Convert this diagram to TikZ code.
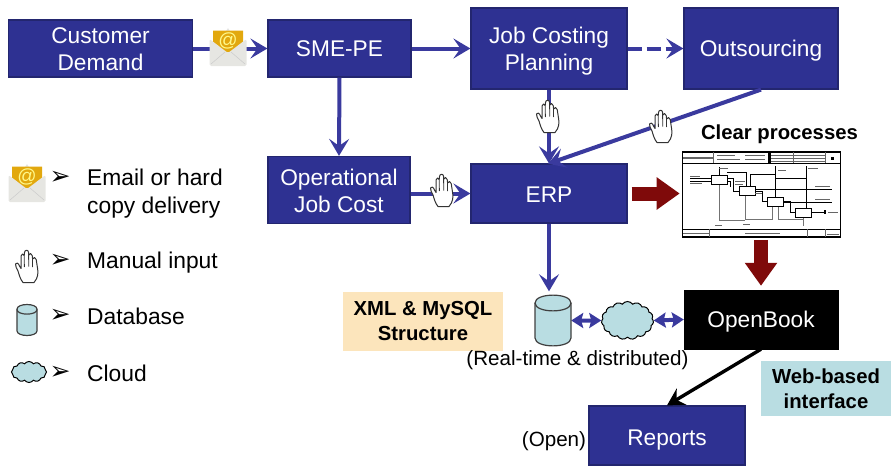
\documentclass[tikz,border=0pt]{standalone}
\usepackage{fontspec}
\setmainfont{Liberation Sans}
\newfontfamily\djfont{DejaVu Sans}
\usetikzlibrary{arrows.meta,shapes.geometric,shapes.symbols,calc}
\definecolor{boxblue}{HTML}{2E3192}
\definecolor{boxedge}{HTML}{23266F}
\definecolor{linkblue}{HTML}{3A3A9E}
\definecolor{darkred}{HTML}{7F0A0A}
\definecolor{dbfill}{HTML}{B9DDE2}
\definecolor{notefill}{HTML}{FCE5BC}
\definecolor{flap}{HTML}{E2A80E}
\definecolor{envbody}{HTML}{E6E6E2}
\tikzset{
  bluebox/.style={draw=boxedge,line width=1.2pt,fill=boxblue,inner sep=0pt},
  blackbox/.style={draw=black,fill=black,inner sep=0pt},
  boxtext/.style={text=white,align=center,inner sep=0pt,font=\fontsize{22.7}{27}\selectfont},
  link/.style={draw=linkblue,line width=4pt,-{Stealth[length=17pt,width=20pt,inset=7pt]}},
  linkboth/.style={draw=linkblue,line width=4pt,{Stealth[length=12pt,width=15pt,inset=2pt]}-{Stealth[length=12pt,width=15pt,inset=2pt]}},
  blackarrow/.style={draw=black,line width=3.4pt,-{Stealth[length=17pt,width=19pt,inset=6pt]}},
  redarrow/.style={draw=darkred,line width=14pt,-{Triangle[length=23pt,width=31pt]}},
  note/.style={inner sep=0pt,align=center,font=\bfseries\fontsize{20.3}{25}\selectfont},
  plain/.style={inner sep=0pt,align=center,font=\fontsize{20.6}{25}\selectfont},
  legendtext/.style={inner sep=0pt,align=left,anchor=west,font=\fontsize{22.8}{27.5}\selectfont},
  bullet/.style={inner sep=0pt,font=\djfont\fontsize{25}{28}\selectfont},
  dbanchor/.style={inner sep=0pt,minimum width=36pt,minimum height=52pt},
  cloudshape/.style={cloud,cloud puffs=15,cloud puff arc=110,draw=black,line width=1pt,fill=dbfill,inner sep=0pt},
  fline/.style={draw=black,line width=1pt},
  gline/.style={draw=black!55,line width=1pt},
  tline/.style={draw=black!60,line width=.5pt},
  fbox/.style={draw=black,line width=1pt,fill=white,inner sep=0pt,minimum width=16pt,minimum height=9pt},
  dbicon/.pic={
    \draw[black!75,fill=dbfill,line width=1.2pt]
      (-18,-17.5) -- (-18,17.5) .. controls (-18,28) and (18,28) .. (18,17.5) -- (18,-17.5)
      .. controls (18,-28) and (-18,-28) .. (-18,-17.5) -- cycle;
    \draw[black!75,line width=1.2pt]
      (-18,-17.5) .. controls (-18,-7) and (18,-7) .. (18,-17.5);
  },
  envelope/.pic={
    \fill[white!90!black] (-7,-8) -- (0,-19) -- (7,-8) -- cycle;
    \fill[flap] (-15,-16.5) -- (15,-16.5) -- (15,-5) -- (0,7) -- (-15,-5) -- cycle;
    \fill[envbody,rounded corners=1.5pt] (-18.5,-8) -- (0,6) -- (18.5,-8) -- (18.5,19) -- (-18.5,19) -- cycle;
    \draw[white!80!black,line width=.5pt] (-17,17) -- (-3,5) (17,17) -- (3,5);
    \node[inner sep=0pt,text=yellow!45!white,font=\fontsize{19}{20}\selectfont] (-at) at (0,-6) {@};
  },
  hand/.pic={
    \draw[black!80,fill=white,line width=1pt,line join=round]
      (-4,16.5) .. controls (-7,13) and (-8,8) .. (-9,5)
      .. controls (-10,3) and (-12,0) .. (-11.5,-2)
      .. controls (-11,-4) and (-8.5,-3) .. (-7.5,0)
      -- (-6,2.5) -- (-6,-10)
      .. controls (-6,-12.5) and (-3,-12.5) .. (-2.8,-10.5)
      -- (-2.5,-13.5) .. controls (-2.3,-16.5) and (1.5,-16.5) .. (1.6,-13.5)
      -- (1.8,-11) .. controls (2,-13) and (5,-13) .. (5.2,-10.5)
      -- (5.6,-7) .. controls (6,-9) and (9,-9) .. (9.2,-6.5)
      -- (10.5,2) .. controls (11.5,7) and (11,12) .. (7,16.5)
      -- cycle;
    \draw[black!80,line width=.8pt] (-2.8,-10) -- (-2.6,1) (1.6,-13) -- (1.7,0.5) (5.4,-9) -- (5.6,1);
  }
}
\begin{document}
\begin{tikzpicture}[x=1pt,y=-1pt]
\useasboundingbox (0,0) rectangle (892,466);

% boxes
\node[bluebox,minimum width=184pt,minimum height=57pt,label={[boxtext,yshift=-1pt]center:{Customer\\Demand}}] (cust) at (100.5,48.5) {};
\node[bluebox,minimum width=143pt,minimum height=57pt,label={[boxtext]center:{SME-PE}}] (sme) at (339.5,48.5) {};
\node[bluebox,minimum width=156pt,minimum height=81pt,label={[boxtext,yshift=-3pt]center:{Job Costing\\Planning}}] (job) at (549,48.5) {};
\node[bluebox,minimum width=154pt,minimum height=81pt,label={[boxtext,yshift=-2pt]center:{Outsourcing}}] (out) at (761,48.5) {};
\node[bluebox,minimum width=142pt,minimum height=67pt,label={[boxtext,yshift=-1pt]center:{Operational\\Job Cost}}] (op) at (339,190) {};
\node[bluebox,minimum width=156pt,minimum height=59pt,label={[boxtext,yshift=-1pt]center:{ERP}}] (erp) at (549,193.5) {};
\node[blackbox,minimum width=154pt,minimum height=59pt,label={[boxtext,yshift=-2.5pt]center:{OpenBook}}] (ob) at (761,319.5) {};
\node[bluebox,minimum width=156pt,minimum height=59pt,label={[boxtext,yshift=-4.5pt]center:{Reports}}] (rep) at (667,435.5) {};

% database and cloud
\node[dbanchor] (db) at (553,320.5) {};
\node[cloudshape,minimum width=52pt,minimum height=38pt] (cl) at (627.5,320.5) {};

% diagram thumbnail frame
\node[draw=black,line width=1.6pt,fill=white,inner sep=0pt,minimum width=158pt,minimum height=85pt] (thumb) at (761.5,194.5) {};

% connectors
\draw[link] (cust.east) -- (sme.west);
\draw[link] (sme.east) -- (job.west);
\draw[link,dashed,dash pattern=on 14pt off 5pt] (job.east) -- (out.west);
\draw[link] (sme.south) -- (op.north);
\draw[link] (op.east |- erp.west) -- (erp.west);
\draw[link] (job.south) -- (erp.north);
\draw[link,shorten >=-1pt] (out.south) -- (erp.north);
\draw[link,shorten >=3pt] (erp.south) -- (erp.south |- db.north);
\draw[linkboth] (db.east) -- (cl.west);
\draw[linkboth] (cl.east) -- (ob.west);
\draw[blackarrow] (ob.south) -- (rep.north);
\draw[redarrow,shorten <=4pt,shorten >=2pt] (erp.east) -- (thumb.west |- erp.east);
\draw[redarrow,shorten <=2pt,shorten >=4pt,xshift=-4pt] (thumb.south -| ob.north) -- (ob.north);

% icons on the connectors
\pic at (553,320.5) {dbicon};
\pic (mailA) at (228,47) {envelope};
\pic at (548,116) {hand};
\pic at (661,126) {hand};
\pic at (442,190) {hand};

% thumbnail content: title blocks
\draw[fline] (682,163.5) -- (841,163.5) (682,229) -- (841,229);
\draw[tline] (713,152) -- (713,163) (683,157.5) -- (713,157.5) (683,158.5) -- (713,158.5)
  (793,152) -- (793,163) (825,152) -- (825,163) (771,155) -- (825,155) (771,158) -- (825,158) (771,161) -- (825,161)
  (717,155) -- (735,155) (717,159) -- (740,159) (745,155) -- (765,155) (745,159) -- (765,159)
  (709,229) -- (709,237) (807,229) -- (807,237) (825,229) -- (825,237) (683,233) -- (709,233)
  (745,233) -- (780,233) (827,234) -- (839,234);
\fill[black] (768,152) rectangle (771,163);
\fill[black] (831,157) rectangle (834,160);
% thumbnail content: flow lines
\draw[fline] (690,178) -- (711,178) (690,181) -- (711,181);
\draw[gline] (719,184) -- (719,220) -- (745,220) (745,195) -- (745,220);
\draw[fline] (719,175) -- (719,167);
\draw[fline] (727,172) -- (746,172) -- (746,186);
\draw[fline] (727,178) -- (733,178) -- (733,191) -- (739,191);
\draw[fline] (727,181) -- (730,181) -- (730,187);
\draw[fline] (750,186) -- (750,174) -- (775,174) -- (775,197);
\draw[fline] (755,191) -- (762,191) -- (762,201) -- (767,201);
\draw[fline] (755,189) -- (832,189);
\draw[fline] (775,166) -- (775,174);
\draw[fline] (775,178) -- (806,178) -- (806,208);
\draw[fline] (806,166) -- (806,178);
\draw[fline] (783,201) -- (790,201) -- (790,212) -- (796,212);
\draw[fline] (783,202) -- (832,202);
\draw[fline] (811,212) -- (824,212);
\fill[black] (824,210) rectangle (826,214);
\draw[gline] (772,206) -- (772,219) -- (745,219);
\draw[gline] (778,206) -- (778,219) -- (803,219) -- (803,217);
\draw[gline] (803,217) -- (803,226);
\node[fbox] (f1) at (719,179.5) {};
\node[fbox] (f2) at (747,190.5) {};
\node[fbox] (f3) at (775,201.5) {};
\node[fbox] (f4) at (803.5,212.5) {};
\draw[tline] (690,176) -- (700,176) (690,183) -- (702,183) (719,168) -- (728,168) (735,181) -- (745,181)
  (735,184) -- (743,184) (755,193) -- (762,193) (778,170) -- (786,170) (808,168) -- (818,168)
  (815,186) -- (830,186) (815,199) -- (830,199) (828,212) -- (838,212) (715,225) -- (722,225) (743,224) -- (750,224);

% labels
\node[note] (clear) at (779.5,134) {Clear processes};
\node[note,fill=notefill,minimum width=160pt,minimum height=59pt] (xml) at (423,321.5) {XML \& MySQL\\Structure};
\node[note,fill=dbfill,minimum width=130pt,minimum height=55pt] (web) at (826,388.5) {Web-based\\interface};
\node[plain] (rt) at (577.5,360) {(Real-time \& distributed)};
\node[plain] (open) at (554,441) {(Open)};

% legend
\pic (mailB) at (27,183) {envelope};
\node[bullet] (b1) at (60,178) {➢};
\node[legendtext] (t1) at (87,193.5) {Email or hard\\copy delivery};
\pic at (27,266) {hand};
\node[bullet] (b2) at (60,261) {➢};
\node[legendtext] (t2) at (87,263) {Manual input};
\pic[xscale=.56,yscale=.61] at (27,320) {dbicon};
\node[bullet] (b3) at (60,316) {➢};
\node[legendtext] (t3) at (87,316.5) {Database};
\node[cloudshape,minimum width=35pt,minimum height=21pt,cloud puffs=12] (cll) at (29,372) {};
\node[bullet] (b4) at (60,373) {➢};
\node[legendtext] (t4) at (87,373.5) {Cloud};
\end{tikzpicture}
\end{document}
